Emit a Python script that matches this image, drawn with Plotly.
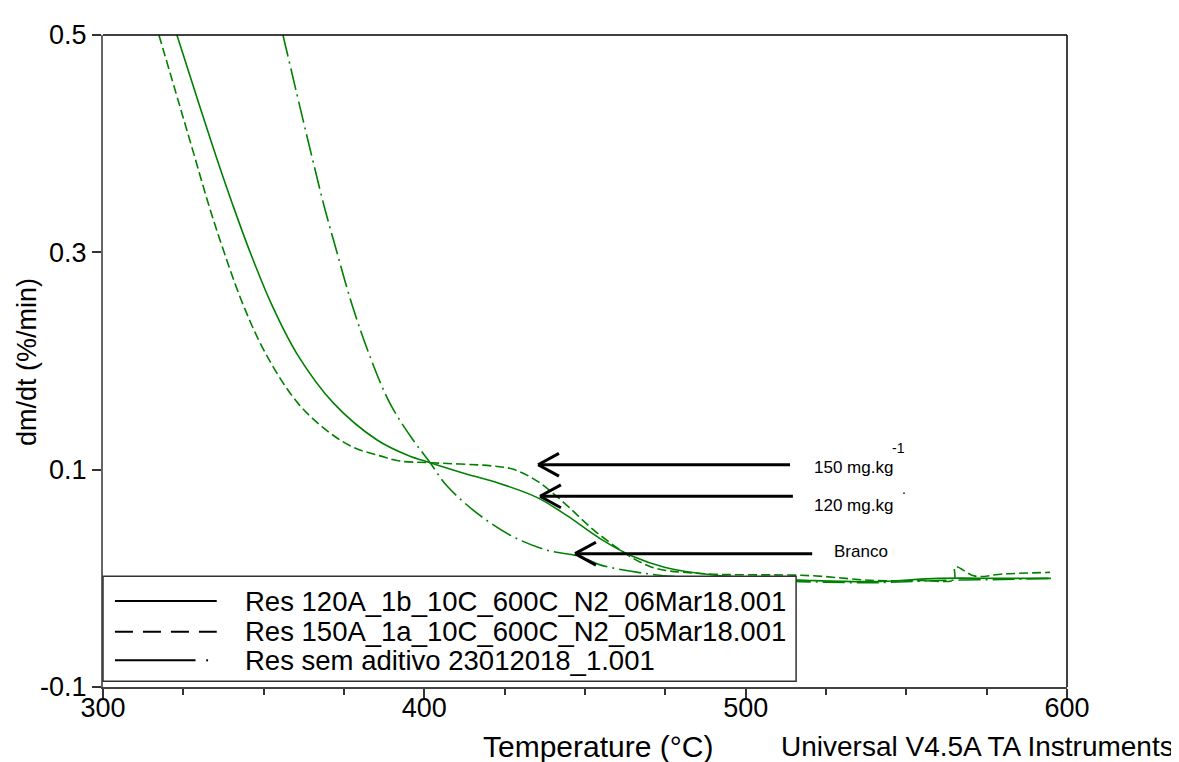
import plotly.graph_objects as go

# ---- data ----
t120 = [323.0, 330.2, 335.2, 340.5, 345.8, 352.5, 360.4, 371.8, 385.3, 395.0, 401.8, 412.0,
        422.5, 435.0, 444.3, 454.7, 465.0, 475.0, 490.0, 505.0, 520.0, 540.0, 560.0, 580.0, 595.0]
d120 = [0.500, 0.4336, 0.3882, 0.3427, 0.300, 0.2518, 0.2064, 0.161, 0.1273, 0.113, 0.1064,
        0.097, 0.0882, 0.0745, 0.0579, 0.0366, 0.020, 0.010, 0.003, 0.000, -0.002, -0.003,
        0.000, 0.000, 0.000]

t150 = [317.4, 324.0, 328.5, 333.0, 337.7, 343.6, 350.7, 360.7, 370.7, 378.4, 386.2, 392.4,
        401.8, 421.5, 427.7, 435.0, 443.3, 454.7, 470.2, 485.8, 520.0, 540.0, 555.0, 564.8,
        565.2, 571.4, 580.0, 594.7]
d150 = [0.500, 0.4336, 0.3882, 0.3427, 0.300, 0.2518, 0.2064, 0.161, 0.1336, 0.120, 0.1127,
        0.1079, 0.1064, 0.1033, 0.1003, 0.0897, 0.070, 0.0397, 0.011, 0.0045, 0.0025, -0.002,
        -0.002, -0.001, 0.0105, 0.002, 0.004, 0.0055]

tbr = [356.0, 361.3, 365.0, 368.8, 372.8, 377.5, 382.8, 389.3, 396.5, 401.8, 407.0, 417.3,
       427.7, 438.0, 448.5, 454.7, 470.0, 485.8, 517.0, 540.0, 560.0, 580.0, 595.0]
dbr = [0.500, 0.4336, 0.3882, 0.3427, 0.300, 0.2518, 0.2064, 0.161, 0.1273, 0.1064, 0.0852,
       0.0579, 0.0382, 0.0261, 0.020, 0.0124, 0.004, 0.000, -0.003, -0.004, -0.002, -0.001, 0.000]

series_names = ["Res 120A_1b_10C_600C_N2_06Mar18.001",
                "Res 150A_1a_10C_600C_N2_05Mar18.001",
                "Res sem aditivo 23012018_1.001"]

# arrow annotations: label, tail x, head x, arrow y, label position
arrow_labels = ["150 mg.kg", "120 mg.kg", "Branco"]
arrow_tail_x = [513.8, 514.7, 520.7]
arrow_head_x = [435.4, 436.0, 446.9]
arrow_y = [0.1045, 0.0755, 0.0227]
label_x = [520.7, 520.7, 526.9]
label_y = [0.1020, 0.0673, 0.0245]
# superscript marks next to the first two labels
sup_text = ["-1", "."]
sup_x = [545.0, 548.0]
sup_y = [0.1195, 0.0825]

x_ticks = [300, 400, 500, 600]
y_ticks = [-0.1, 0.1, 0.3, 0.5]
y_ticktext = ["-0.1", "0.1", "0.3", "0.5"]

GREEN = "#008000"
FONT = "Liberation Sans, Arial, sans-serif"

fig = go.Figure()
fig.add_trace(go.Scatter(x=t120, y=d120, mode="lines", name=series_names[0],
                         line=dict(color=GREEN, width=1.6, shape="spline", smoothing=1.0)))
fig.add_trace(go.Scatter(x=t150, y=d150, mode="lines", name=series_names[1],
                         line=dict(color=GREEN, width=1.6, dash="9px,4px", shape="spline", smoothing=1.0)))
fig.add_trace(go.Scatter(x=tbr, y=dbr, mode="lines", name=series_names[2],
                         line=dict(color=GREEN, width=1.6, dash="22px,5px,2px,5px", shape="spline", smoothing=1.0)))

# arrows with open chevron heads
head_dx = 6.5
head_dy = 0.0105
for i in range(len(arrow_labels)):
    y = arrow_y[i]
    hx = arrow_head_x[i]
    fig.add_shape(type="line", x0=arrow_tail_x[i], x1=hx, y0=y, y1=y,
                  line=dict(color="black", width=3), layer="above")
    fig.add_shape(type="line", x0=hx, x1=hx + head_dx, y0=y, y1=y + head_dy,
                  line=dict(color="black", width=3), layer="above")
    fig.add_shape(type="line", x0=hx, x1=hx + head_dx, y0=y, y1=y - head_dy,
                  line=dict(color="black", width=3), layer="above")
    fig.add_annotation(x=label_x[i], y=label_y[i], text=arrow_labels[i], showarrow=False,
                       xanchor="left", yanchor="middle", font=dict(family=FONT, size=17, color="black"))
for i in range(len(sup_text)):
    fig.add_annotation(x=sup_x[i], y=sup_y[i], text=sup_text[i], showarrow=False,
                       xanchor="left", yanchor="middle", font=dict(family=FONT, size=14, color="black"))

# manual legend box
fig.add_shape(type="rect", xref="paper", yref="paper", x0=0.0, x1=0.719, y0=0.009, y1=0.1697,
              fillcolor="white", line=dict(color="#333333", width=1.5), layer="above")
legend_rows = [0.1318, 0.0848, 0.0409]
legend_dash = ["solid", "18px,10px", None]
for i, yy in enumerate(legend_rows):
    if legend_dash[i] is not None:
        fig.add_shape(type="line", xref="paper", yref="paper", x0=0.0124, x1=0.118, y0=yy, y1=yy,
                      line=dict(color="black", width=2, dash=legend_dash[i]), layer="above")
    else:
        fig.add_shape(type="line", xref="paper", yref="paper", x0=0.0124, x1=0.096, y0=yy, y1=yy,
                      line=dict(color="black", width=2), layer="above")
        fig.add_shape(type="line", xref="paper", yref="paper", x0=0.107, x1=0.109, y0=yy, y1=yy,
                      line=dict(color="black", width=2), layer="above")
    fig.add_annotation(xref="paper", yref="paper", x=0.1452, y=yy, text=series_names[i],
                       showarrow=False, xanchor="left", yanchor="middle",
                       font=dict(family=FONT, size=27.5, color="black"))

# top and right frame lines
fig.add_shape(type="line", xref="paper", yref="paper", x0=0, x1=1, y0=1, y1=1,
              line=dict(color="black", width=1.5), layer="above")
fig.add_shape(type="line", xref="paper", yref="paper", x0=1, x1=1, y0=0, y1=1,
              line=dict(color="black", width=1.5), layer="above")

# axis titles
fig.add_annotation(xref="paper", yref="paper", x=0.513, y=-0.0909, text="Temperature (°C)",
                   showarrow=False, xanchor="center", yanchor="middle",
                   font=dict(family=FONT, size=30, color="black"))
fig.add_annotation(xref="paper", yref="paper", x=0.907, y=-0.0909, text="Universal V4.5A TA Instruments",
                   showarrow=False, xanchor="center", yanchor="middle",
                   font=dict(family=FONT, size=28, color="black"))
fig.add_annotation(xref="paper", yref="paper", x=-0.0788, y=0.4985, text="dm/dt (%/min)",
                   showarrow=False, textangle=-90, xanchor="center", yanchor="middle",
                   font=dict(family=FONT, size=27, color="black"))

# the page body has an 8px margin, so the figure is sized/offset to compensate
fig.update_layout(
    width=1171, height=754,
    margin=dict(l=95, r=112, t=19, b=75),
    paper_bgcolor="white", plot_bgcolor="white",
    showlegend=False,
    font=dict(family=FONT, color="black"),
    xaxis=dict(range=[300, 600], tickvals=x_ticks, ticktext=[str(v) for v in x_ticks],
               ticks="outside", ticklen=9, tickwidth=1.5, tickcolor="#333333",
               showline=True, linecolor="#444444", linewidth=2, showgrid=False, zeroline=False,
               ticklabelstandoff=-13,
               tickfont=dict(family=FONT, size=27, color="black"),
               minor=dict(dtick=25, tick0=300, ticks="outside", ticklen=6, tickcolor="#333333", showgrid=False)),
    yaxis=dict(range=[-0.1, 0.5], tickvals=y_ticks, ticktext=y_ticktext,
               ticks="outside", ticklen=9, tickwidth=1.5, tickcolor="#333333",
               showline=True, linecolor="#666666", linewidth=2, showgrid=False, zeroline=False,
               tickfont=dict(family=FONT, size=27, color="black")),
)

fig.write_html("out.html")
